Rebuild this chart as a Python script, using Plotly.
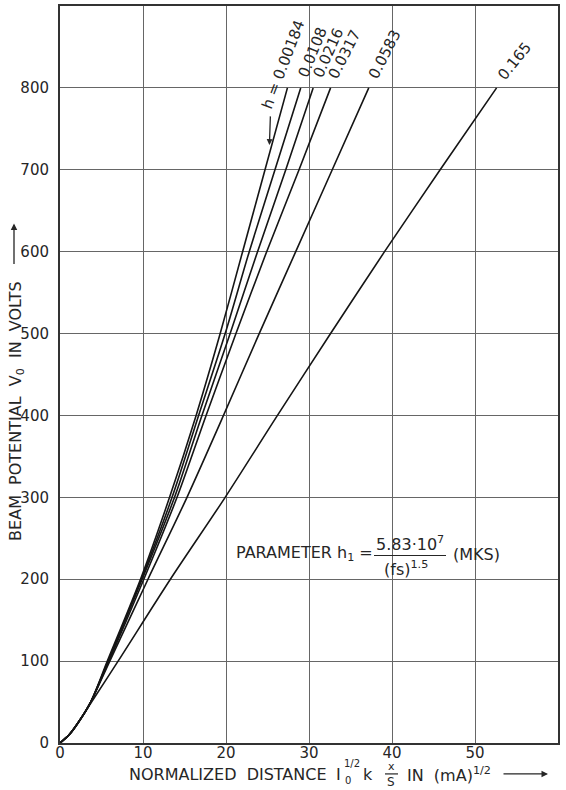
import plotly.graph_objects as go

# Beam potential (V) at which each curve is sampled
volts = [0, 10, 25, 50, 100, 200, 300, 400, 500, 600, 700, 800]

# Normalized distance for each space-charge parameter h
h_labels = ["h = 0.00184", "0.0108", "0.0216", "0.0317", "0.0583", "0.165"]
dist_h00184 = [0, 1.1, 2.2, 3.7, 5.7, 9.7, 13.2, 16.4, 19.3, 22.0, 24.7, 27.4]
dist_h0108 = [0, 1.1, 2.2, 3.7, 5.8, 9.8, 13.5, 16.7, 19.9, 22.8, 25.9, 29.0]
dist_h0216 = [0, 1.1, 2.2, 3.7, 5.8, 9.9, 13.8, 17.1, 20.5, 23.8, 27.2, 30.5]
dist_h0317 = [0, 1.1, 2.2, 3.7, 5.9, 10.1, 14.1, 17.6, 21.2, 24.9, 28.8, 32.6]
dist_h0583 = [0, 1.1, 2.2, 3.7, 6.0, 10.6, 15.3, 19.7, 24.0, 28.4, 32.8, 37.2]
dist_h165 = [0, 1.1, 2.2, 3.8, 7.0, 13.3, 19.9, 26.2, 32.6, 39.1, 45.8, 52.6]
curves = [dist_h00184, dist_h0108, dist_h0216, dist_h0317, dist_h0583, dist_h165]

x_ticks = [0, 10, 20, 30, 40, 50, 60]
y_ticks = [0, 100, 200, 300, 400, 500, 600, 700, 800]

# label placement relative to each curve's upper end (pixels) and text angle
label_dx = [-4, 12, 15, 14, 16, 18]
label_dy = [24, 36, 35, 34, 34, 27]
label_angle = [-69, -68, -66, -63, -63, -51]

INK = "#262626"
GRID = "#666666"
FONT = "DejaVu Sans"

# plot-area geometry in page pixels
L, R, T, B = 60, 558, 4, 743
W, H = 566, 790


def px(x):
    return (x - L) / (R - L)


def py(y):
    return (B - y) / (B - T)


fig = go.Figure()
for xs in curves:
    fig.add_trace(go.Scatter(
        x=xs, y=volts, mode="lines",
        line=dict(color="#151515", width=1.6, shape="spline", smoothing=0.8),
        showlegend=False, hoverinfo="skip",
    ))

ann = []
for xs, lab, dx, dy, ang in zip(curves, h_labels, label_dx, label_dy, label_angle):
    ann.append(dict(x=xs[-1], y=volts[-1], xref="x", yref="y", text=lab,
                    showarrow=False, xshift=dx, yshift=dy, textangle=ang,
                    font=dict(family=FONT, size=15, color=INK),
                    xanchor="center", yanchor="middle"))

# small arrow under the "h =" label
ann.append(dict(x=dist_h00184[-1], y=volts[-1], xref="x", yref="y", text="",
                showarrow=True, arrowhead=2, arrowsize=0.9, arrowwidth=1.3,
                arrowcolor=INK, ax=1, ay=-30, xshift=-18, yshift=-57))

# y-axis title
ann.append(dict(x=px(17), y=py(410), xref="paper", yref="paper",
                text="BEAM  POTENTIAL  V<sub>0</sub>  IN  VOLTS",
                textangle=-90, showarrow=False,
                font=dict(family=FONT, size=16, color=INK),
                xanchor="center", yanchor="middle"))
ann.append(dict(x=px(14), y=py(222), xref="paper", yref="paper", text="",
                showarrow=True, arrowhead=2, arrowsize=1, arrowwidth=1.3,
                arrowcolor=INK, ax=0, ay=42))

# x-axis title, built in pieces
tf = dict(family=FONT, size=16, color=INK)
sf = dict(family=FONT, size=10, color=INK)
ann += [
    dict(x=px(127), y=py(775), text="NORMALIZED  DISTANCE", font=tf,
         xanchor="left", yanchor="middle"),
    dict(x=px(334), y=py(775), text="I", font=tf, xanchor="left", yanchor="middle"),
    dict(x=px(352), y=py(764), text="1/2", font=sf, xanchor="center", yanchor="middle"),
    dict(x=px(348), y=py(781), text="0", font=sf, xanchor="center", yanchor="middle"),
    dict(x=px(361), y=py(775), text="k", font=tf, xanchor="left", yanchor="middle"),
    dict(x=px(391), y=py(767), text="x", font=dict(family=FONT, size=11, color=INK),
         xanchor="center", yanchor="middle"),
    dict(x=px(391), y=py(782), text="S", font=dict(family=FONT, size=12, color=INK),
         xanchor="center", yanchor="middle"),
    dict(x=px(405), y=py(775), text="IN  (mA)<sup>1/2</sup>", font=tf,
         xanchor="left", yanchor="middle"),
]
for a in ann[-8:]:
    a.update(xref="paper", yref="paper", showarrow=False)
ann.append(dict(x=px(548), y=py(774), xref="paper", yref="paper", text="",
                showarrow=True, arrowhead=2, arrowsize=1, arrowwidth=1.3,
                arrowcolor=INK, ax=-46, ay=0))

# parameter note
ann += [
    dict(x=px(234), y=py(553), text="PARAMETER h<sub>1</sub> =", font=tf,
         xanchor="left", yanchor="middle"),
    dict(x=px(410), y=py(543), text="5.83\u00b710<sup>7</sup>", font=tf,
         xanchor="center", yanchor="middle"),
    dict(x=px(406), y=py(568), text="(fs)<sup>1.5</sup>", font=tf,
         xanchor="center", yanchor="middle"),
    dict(x=px(451), y=py(554), text="(MKS)", font=tf,
         xanchor="left", yanchor="middle"),
]
for a in ann[-4:]:
    a.update(xref="paper", yref="paper", showarrow=False)

shapes = [
    dict(type="line", xref="paper", yref="paper", x0=px(385), x1=px(398),
         y0=py(774), y1=py(774), line=dict(color=INK, width=1.2)),
    dict(type="line", xref="paper", yref="paper", x0=px(374), x1=px(446),
         y0=py(555), y1=py(555), line=dict(color=INK, width=1.2)),
]

fig.update_layout(
    width=W, height=H,
    margin=dict(l=L, r=W - R, t=T, b=H - B),
    paper_bgcolor="white", plot_bgcolor="white",
    annotations=ann, shapes=shapes,
    font=dict(family=FONT, color=INK),
    xaxis=dict(range=[0, 60], tickvals=x_ticks, ticktext=[str(v) for v in x_ticks],
               showgrid=True, gridcolor=GRID, gridwidth=1.2, zeroline=False,
               showline=True, linecolor="#333333", linewidth=2, mirror=True,
               ticks="", tickfont=dict(family=FONT, size=15, color=INK),
               ticklabelstandoff=-5, fixedrange=True),
    yaxis=dict(range=[0, 900], tickvals=y_ticks, ticktext=[str(v) for v in y_ticks],
               showgrid=True, gridcolor=GRID, gridwidth=1.2, zeroline=False,
               showline=True, linecolor="#333333", linewidth=2, mirror=True,
               ticks="", tickfont=dict(family=FONT, size=15, color=INK),
               ticklabelstandoff=6, fixedrange=True),
)

fig.write_html("out.html")
